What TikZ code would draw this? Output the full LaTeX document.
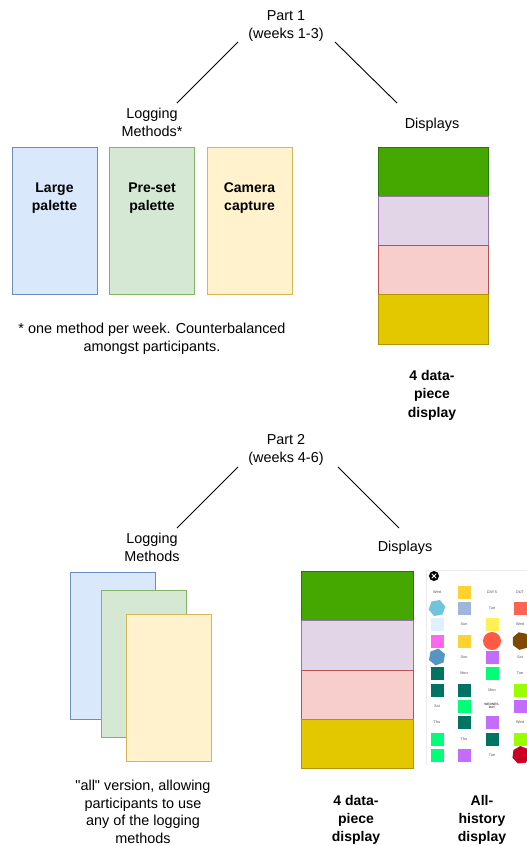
\documentclass[tikz,border=0pt]{standalone}
\usepackage{fontspec}
\setmainfont{Liberation Sans}[Ligatures=TeXOff]
\usetikzlibrary{shapes.geometric}
\definecolor{blueF}{HTML}{DAE8FC}\definecolor{blueS}{HTML}{6C8EBF}
\definecolor{greenF}{HTML}{D5E8D4}\definecolor{greenS}{HTML}{82B366}
\definecolor{yelF}{HTML}{FFF2CC}\definecolor{yelS}{HTML}{D6B656}
\definecolor{dgreenF}{HTML}{45A800}\definecolor{dgreenS}{HTML}{2D7600}
\definecolor{purpF}{HTML}{E1D5E7}\definecolor{purpS}{HTML}{9673A6}
\definecolor{redF}{HTML}{F8CECC}\definecolor{redS}{HTML}{B85450}
\definecolor{dyelF}{HTML}{E3C800}\definecolor{dyelS}{HTML}{B09500}
\definecolor{cYa}{HTML}{FFD230}\definecolor{cSlate}{HTML}{A0B4DC}
\definecolor{cCoral}{HTML}{FF6450}\definecolor{cLtb}{HTML}{E0F0FC}
\definecolor{cYb}{HTML}{FFF055}\definecolor{cMag}{HTML}{FF66F0}
\definecolor{cRedc}{HTML}{FF5A45}\definecolor{cBrown}{HTML}{7D4A00}
\definecolor{cHexa}{HTML}{70C4DC}\definecolor{cHexb}{HTML}{5596C4}
\definecolor{cPurp}{HTML}{C46CFF}\definecolor{cTeal}{HTML}{007363}
\definecolor{cGreen}{HTML}{00FF78}\definecolor{cLime}{HTML}{99FF00}
\definecolor{cDkred}{HTML}{CC0022}\definecolor{cTxt}{HTML}{555555}
\newcommand{\hsq}[3]{\fill[#3] (#1-6.5,#2-6.5) rectangle (#1+6.5,#2+6.5);}
\newcommand{\htx}[3]{\node[font=\fontsize{3.8}{4}\selectfont, text=cTxt] at (#1,#2) {#3};}
\begin{document}
\begin{tikzpicture}[x=1pt,y=-1pt,
  every node/.style={font=\fontsize{14.4}{18.5}\selectfont, inner sep=0pt},
  lbl/.style={anchor=base, align=center},
  blbl/.style={anchor=base, align=center, font=\fontsize{14}{18.3}\selectfont\bfseries},
  mbox/.style={draw, line width=1pt, anchor=north west, minimum width=85pt, minimum height=147pt},
  seg/.style={draw, line width=1pt, anchor=north west},
  conn/.style={line width=0.9pt}]
\useasboundingbox (0,0) rectangle (527,846);

% ---------- Part 1 ----------
\node[lbl] (p1) at (286,38.5) {Part 1\\(weeks 1-3)};
\node[lbl] (lm1) at (152,136.5) {Logging\\Methods*};
\node[lbl] (ds1) at (432,128) {Displays};
\coordinate (p1l) at (238,42); \coordinate (lm1t) at (177,103);
\coordinate (p1r) at (335,42); \coordinate (ds1t) at (397,103);
\draw[conn] (p1l) -- (lm1t);
\draw[conn] (p1r) -- (ds1t);

\node[mbox, fill=blueF, draw=blueS] (b1) at (12,147) {};
\node[mbox, fill=greenF, draw=greenS] (b2) at (109,147) {};
\node[mbox, fill=yelF, draw=yelS] (b3) at (207,147) {};
\node[blbl] (t1) at (54.5,210.3) {Large\\palette};
\node[blbl] (t2) at (152,210.3) {Pre-set\\palette};
\node[blbl] (t3) at (249.5,210.3) {Camera\\capture};
\node[lbl] (fn) at (152,351.5) {* one method per week. Counterbalanced\\amongst participants.};

\node[seg, fill=dgreenF, draw=dgreenS, minimum width=110pt, minimum height=49pt] (d1a) at (378,147) {};
\node[seg, fill=purpF, draw=purpS, minimum width=110pt, minimum height=49pt] (d1b) at (378,196) {};
\node[seg, fill=redF, draw=redS, minimum width=110pt, minimum height=49pt] (d1c) at (378,245) {};
\node[seg, fill=dyelF, draw=dyelS, minimum width=110pt, minimum height=50pt] (d1d) at (378,294) {};
\node[blbl, font=\fontsize{14}{18.5}\selectfont\bfseries] (dl1) at (432,417) {4 data-\\piece\\display};

% ---------- Part 2 ----------
\node[lbl] (p2) at (286,462.5) {Part 2\\(weeks 4-6)};
\node[lbl] (lm2) at (152,561.5) {Logging\\Methods};
\node[lbl] (ds2) at (405,551) {Displays};
\coordinate (p2l) at (238,467); \coordinate (lm2t) at (177,528);
\coordinate (p2r) at (338,467); \coordinate (ds2t) at (399,528);
\draw[conn] (p2l) -- (lm2t);
\draw[conn] (p2r) -- (ds2t);

\node[mbox, fill=blueF, draw=blueS] (s1) at (70,572) {};
\node[mbox, fill=greenF, draw=greenS] (s2) at (101,590) {};
\node[mbox, fill=yelF, draw=yelS] (s3) at (126,614) {};
\node[lbl, font=\fontsize{14.4}{17.4}\selectfont] (al) at (143,843) {"all" version, allowing\\participants to use\\any of the logging\\methods};

\node[seg, fill=dgreenF, draw=dgreenS, minimum width=112pt, minimum height=49pt] (d2a) at (301,571) {};
\node[seg, fill=purpF, draw=purpS, minimum width=112pt, minimum height=50pt] (d2b) at (301,620) {};
\node[seg, fill=redF, draw=redS, minimum width=112pt, minimum height=49pt] (d2c) at (301,670) {};
\node[seg, fill=dyelF, draw=dyelS, minimum width=112pt, minimum height=49pt] (d2d) at (301,719) {};
\node[blbl, font=\fontsize{14}{18}\selectfont\bfseries] (dl2) at (356,841) {4 data-\\piece\\display};
\node[blbl, font=\fontsize{14}{18}\selectfont\bfseries] (hl2) at (482,841) {All-\\history\\display};

% all-history screenshot
\fill[white] (426,570) rectangle (527,765);
\draw[black!8, line width=0.6pt] (426,765) -- (426,570) -- (527,570);
\fill[black] (434,576) circle (5);
\draw[white, line width=1pt] (431.8,573.8) -- (436.2,578.2) (431.8,578.2) -- (436.2,573.8);
% row 1
\htx{437}{592}{Wed} \hsq{464}{592}{cYa} \htx{492}{592}{DAYS} \htx{520}{592}{OUT}
% row 2
\node[regular polygon, regular polygon sides=6, fill=cHexa, minimum size=17pt, rotate=10] at (437,608) {};
\hsq{464}{608}{cSlate} \htx{492}{608}{Tue} \hsq{520}{608}{cCoral}
% row 3
\hsq{437}{624}{cLtb} \htx{464}{624}{Sun} \hsq{492}{624}{cYb} \htx{520}{624}{Wed}
% row 4
\hsq{437}{641}{cMag} \hsq{464}{641}{cYa} \fill[cRedc] (492,641) circle (9);
\node[regular polygon, regular polygon sides=7, fill=cBrown, minimum size=18pt, rotate=15] at (521,641) {};
% row 5
\node[regular polygon, regular polygon sides=6, fill=cHexb, minimum size=17pt, rotate=20] at (437,657) {};
\htx{464}{657}{Sun} \hsq{492}{657}{cPurp} \htx{520}{657}{Sat}
% row 6
\hsq{437}{673}{cTeal} \htx{464}{673}{Mon} \hsq{492}{673}{cGreen} \htx{520}{673}{Tue}
% row 7
\hsq{437}{690}{cTeal} \hsq{464}{690}{cTeal} \htx{492}{690}{Mon} \hsq{520}{690}{cLime}
% row 8
\htx{437}{706}{Sat} \hsq{464}{706}{cGreen}
\node[font=\fontsize{3.2}{3.4}\selectfont\bfseries, text=cTxt, align=center] at (492,706) {WEDNES-\\DAY};
\hsq{520}{706}{cPurp}
% row 9
\htx{437}{722}{Thu} \hsq{464}{722}{cTeal} \hsq{492}{722}{cPurp} \htx{520}{722}{Wed}
% row 10
\hsq{437}{739}{cGreen} \htx{464}{739}{Thu} \hsq{492}{739}{cTeal} \hsq{520}{739}{cLime}
% row 11
\hsq{437}{755}{cGreen} \hsq{464}{755}{cPurp} \htx{492}{755}{Tue}
\node[regular polygon, regular polygon sides=7, fill=cDkred, minimum size=18pt, rotate=5] at (521,755) {};
\end{tikzpicture}
\end{document}
